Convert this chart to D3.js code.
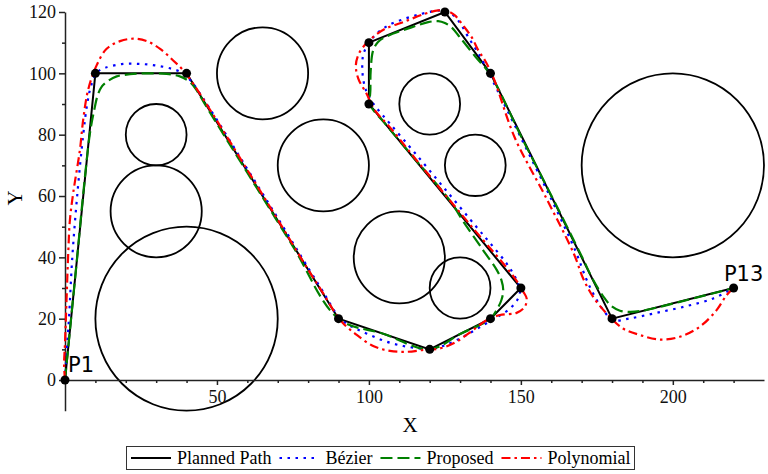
<!DOCTYPE html>
<html>
<head>
<meta charset="utf-8">
<script src="https://cdn.jsdelivr.net/npm/d3@7"></script>
<style>
  html, body { margin: 0; padding: 0; background: #fff; }
  svg { display: block; }
  .tick text { font-family: "Liberation Serif", "Times New Roman", serif; font-size: 18px; fill: #111; }
</style>
</head>
<body>
<svg id="chart" width="768" height="474"></svg>
<script>
// Waypoints of the planned path (P1 ... P13)
const waypoints = [
  [0, 0], [10, 100], [40, 100], [90, 20], [120, 10], [140, 20], [150, 30],
  [100, 90], [100, 110], [125, 120], [140, 100], [180, 20], [220, 30]
];

// Circular obstacles: [cx, cy, r]
const obstacles = [
  [40, 20, 30], [30, 55, 15], [30, 80, 10], [65, 100, 15], [85, 70, 15],
  [110, 40, 15], [130, 30, 10], [120, 90, 10], [135, 70, 10], [200, 70, 30]
];

// Smoothed trajectories
const bezierPath = [
  [0,0],[0.6,10],[1.3,20],[2.4,40],[4,60],[6,80],[7.3,90],[8.6,96],[10.5,100.3],[13.2,101.8],
  [18.6,103],[24,103.1],[29.6,102.6],[35.1,101.5],[38.6,100.2],[41.5,97.5],[45,92.5],[50,84.8],
  [60,68.8],[70,52.8],[80,36.6],[86,27],[89,22],[92,18.8],[95.4,16.9],[100.3,14.7],[105.8,12.5],
  [111.3,11.1],[116.8,10.3],[120.1,10],[124.4,11.1],[131,14.1],[137.6,17.9],[142,20.4],[146.4,23.3],
  [149.1,26.6],[149.7,29.3],[148.4,33],[145.3,38],[140,44.5],[135.4,49.9],[125,62.3],[115,74.2],
  [107,83.5],[102.5,88.8],[100,92.3],[98.7,95.5],[97.9,100],[98.1,105.9],[99.8,109.6],[102.5,112.9],
  [106.3,115.6],[111.8,117.8],[117.3,119.4],[121.7,120.3],[125,120.4],[128.3,118.5],[130.5,115.6],
  [132.7,111.8],[135.4,107.5],[138.5,102],[142,95],[150,79],[160,59],[168,42],[171.5,33],[173.8,28.2],
  [177.1,22.8],[180.4,19.5],[185.9,20.1],[194.6,21.9],[204.5,24.1],[213.3,26.6],[219.3,29.6],[220,30]
];

const proposedPath = [
  [0,0],[2,20],[4,40],[6,60.8],[8.2,80.4],[9.6,88],[10.8,93],[12.2,95.8],[13.7,97.2],[17,99],
  [21.4,99.7],[27,100],[33.4,99.8],[37.8,99],[41.1,97.2],[43.3,94.5],[46,90],[60,67.6],[75,43.6],
  [90,20],[105,15],[120,10],[130,15],[140,20],[142,22.8],[143.6,26.1],[144.2,29.3],[143.6,32.6],
  [142,36],[137.6,42.3],[131,51.8],[126.6,58.6],[115,72.2],[105,84],[100.6,89.5],[100.5,95],
  [100.6,101],[101.4,107.5],[103,110.2],[105.3,111.8],[114,115],[119.5,116.7],[122.8,117],[125,116.4],
  [127.2,115],[129.9,111.8],[135,105.5],[140,99.5],[150,79.6],[160.3,59.6],[170,40.4],[173.8,32.6],
  [177.6,26.6],[179.8,24.1],[182.6,22.6],[185.9,22.2],[190,22.6],[202.3,25.5],[220,30]
];

const polynomialPath = [
  [0,0],[-0.3,5],[0,12],[0.5,26],[1.1,42.3],[1.6,52],[2.7,61],[4.9,75],[6,85],[7.7,95],[10.4,102.6],
  [13.7,108],[18.1,110.5],[22.5,111.3],[26.9,110.5],[31.3,108],[35.6,104.2],[38.9,101],[42.2,96.6],
  [49.9,84.7],[60,68.5],[70,52.3],[80,36],[85,28.2],[88.5,22.5],[91.5,18.5],[96,14.7],[101.4,11.1],
  [106.9,9.5],[112.4,9.2],[117.9,9.8],[123.4,10.3],[128.8,12.5],[134.3,16.3],[138.7,19.5],[143.1,21.2],
  [148.6,21.9],[151.3,23.9],[151.9,26.6],[150.8,28.8],[148.5,32.5],[144.2,38],[137.6,45.6],[125,60.5],
  [115,72.5],[107,82.3],[102,87.9],[99.2,93.4],[96.5,98.3],[95.7,102.6],[96.5,106],[98.1,108.6],
  [101,111.5],[105.3,114.5],[111.8,116.9],[118.4,119.4],[122.8,120.5],[126,120.2],[128.3,118.9],
  [131,115.6],[133.8,111.8],[136,107.5],[138.2,104.2],[141,98.5],[148,79],[158,60],[167.5,41],
  [170.5,33.1],[173.8,27.1],[178.2,21.7],[183.6,16.8],[189.1,14.7],[195.7,13.2],[202.3,14.1],
  [208.9,17.4],[214.4,22.8],[217.7,27.7],[220,30]
];

// Axis ticks
const yMajorTicks = [0, 20, 40, 60, 80, 100, 120];
const yMinorTicks = [10, 30, 50, 70, 90, 110];
const xMajorTicks = [50, 100, 150, 200];
const xMinorTicks = [10, 20, 30, 40, 60, 70, 80, 90, 110, 120, 130, 140, 160, 170, 180, 190, 210, 220];

// Legend entries
const seriesNames = ["Planned Path", "Bézier", "Proposed", "Polynomial"];
const seriesColors = ["#000000", "#0000ff", "#008000", "#ff0000"];
const seriesDashes = [null, "2.5,5.5", "12,5", "9,4,2.5,4"];

const svg = d3.select("#chart");
const x = d3.scaleLinear().domain([0, 230]).range([65, 764]);
const y = d3.scaleLinear().domain([-10, 120]).range([410.7, 12]);

// Obstacles
svg.append("g")
  .selectAll("ellipse")
  .data(obstacles)
  .join("ellipse")
  .attr("cx", d => x(d[0]))
  .attr("cy", d => y(d[1]))
  .attr("rx", d => x(d[2]) - x(0))
  .attr("ry", d => y(0) - y(d[2]))
  .attr("fill", "none")
  .attr("stroke", "#000")
  .attr("stroke-width", 1.8);

// Axes
const axisColor = "#222";
const yAxis = svg.append("g").attr("transform", `translate(${x(0)},0)`)
  .call(d3.axisLeft(y).tickValues(yMajorTicks).tickSize(6).tickSizeOuter(0).tickPadding(3).tickFormat(d3.format("d")));
svg.append("g").attr("transform", `translate(${x(0)},0)`)
  .call(d3.axisLeft(y).tickValues(yMinorTicks).tickSize(3).tickSizeOuter(0).tickFormat(""))
  .select(".domain").remove();
const xAxis = svg.append("g").attr("transform", `translate(0,${y(0)})`)
  .call(d3.axisBottom(x).tickValues(xMajorTicks).tickSize(5).tickSizeOuter(0).tickPadding(5).tickFormat(d3.format("d")));
svg.append("g").attr("transform", `translate(0,${y(0)})`)
  .call(d3.axisBottom(x).tickValues(xMinorTicks).tickSize(3).tickSizeOuter(0).tickFormat(""))
  .select(".domain").remove();
svg.selectAll(".domain, .tick line").attr("stroke", axisColor).attr("stroke-width", 1.5);

// Axis titles
svg.append("text")
  .attr("x", 410).attr("y", 432)
  .attr("text-anchor", "middle")
  .style("font-family", "Liberation Serif, serif").style("font-size", "21px")
  .text("X");
svg.append("text")
  .attr("transform", "translate(22,198) rotate(-90)")
  .attr("text-anchor", "middle")
  .style("font-family", "Liberation Serif, serif").style("font-size", "21px")
  .text("Y");

// Trajectories
const smooth = d3.line().x(d => x(d[0])).y(d => y(d[1])).curve(d3.curveCatmullRom.alpha(0.5));
const straight = d3.line().x(d => x(d[0])).y(d => y(d[1]));

svg.append("path").attr("d", straight(waypoints))
  .attr("fill", "none").attr("stroke", seriesColors[0]).attr("stroke-width", 2);

const curves = [bezierPath, proposedPath, polynomialPath];
curves.forEach((pts, i) => {
  svg.append("path").attr("d", smooth(pts))
    .attr("fill", "none")
    .attr("stroke", seriesColors[i + 1])
    .attr("stroke-width", 2.2)
    .attr("stroke-dasharray", seriesDashes[i + 1]);
});

// Waypoint markers
svg.append("g").selectAll("circle")
  .data(waypoints)
  .join("circle")
  .attr("cx", d => x(d[0]))
  .attr("cy", d => y(d[1]))
  .attr("r", 4.5)
  .attr("fill", "#000");

// Start / end labels
const first = waypoints[0], last = waypoints[waypoints.length - 1];
svg.append("text")
  .attr("x", x(first[0]) + 3).attr("y", y(first[1]) - 8)
  .style("font-family", "DejaVu Sans, sans-serif").style("font-size", "21px")
  .text("P1");
svg.append("text")
  .attr("x", x(last[0]) + 10).attr("y", y(last[1]) - 7)
  .attr("text-anchor", "middle")
  .style("font-family", "DejaVu Sans, sans-serif").style("font-size", "21px")
  .text("P13");

// Legend
const legend = svg.append("g");
legend.append("rect")
  .attr("x", 126.5).attr("y", 446.5).attr("width", 508).attr("height", 23)
  .attr("fill", "#fff").attr("stroke", "#333").attr("stroke-width", 1);
let cursor = 131;
seriesNames.forEach((name, i) => {
  const segLen = 40;
  legend.append("line")
    .attr("x1", cursor).attr("x2", cursor + segLen)
    .attr("y1", 458).attr("y2", 458)
    .attr("stroke", seriesColors[i]).attr("stroke-width", 2.2)
    .attr("stroke-dasharray", seriesDashes[i]);
  const t = legend.append("text")
    .attr("x", cursor + segLen + 6).attr("y", 464)
    .style("font-family", "Liberation Serif, serif").style("font-size", "18px")
    .text(name);
  cursor += segLen + 6 + t.node().getComputedTextLength() + 8;
});
</script>
</body>
</html>
